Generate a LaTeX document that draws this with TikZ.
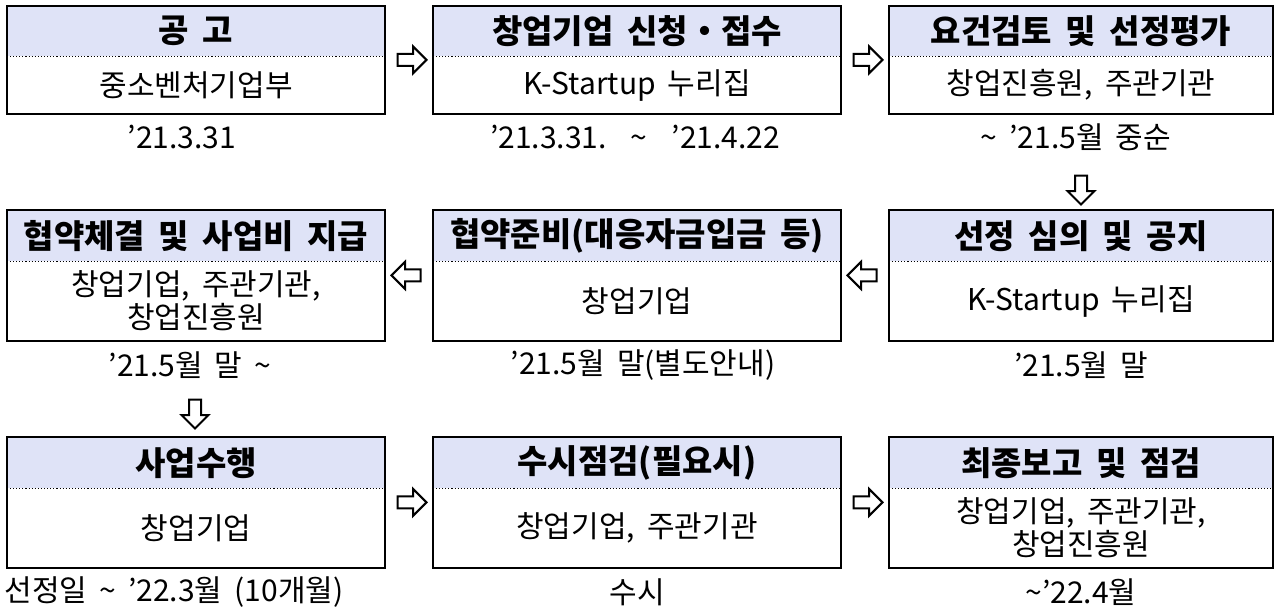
\documentclass[tikz,border=0pt]{standalone}
\usepackage{fontspec}
\setmainfont[WordSpace=1.8]{Noto Sans CJK KR}
\usepackage{xcolor}
\usetikzlibrary{shapes.arrows,calc}
\definecolor{headfill}{RGB}{223,227,247}
\newcommand{\tld}{\textasciitilde}

\begin{document}
\begin{tikzpicture}[x=1pt,y=-1pt]
\tikzstyle{every node}+=[inner sep=0pt]
\tikzstyle{head}=[fill=headfill, anchor=north, minimum height=51, font=\fontsize{33}{36}\selectfont\bfseries]
\tikzstyle{body}=[anchor=north, align=center, font=\fontsize{30}{33}\selectfont]
\tikzstyle{date}=[font=\fontsize{30}{33}\selectfont]
\tikzstyle{frame}=[line width=1.8pt]
\tikzstyle{sep}=[dotted, line width=1.1pt]
\tikzstyle{blockarrow}=[single arrow, draw, fill=white, line width=2pt, inner sep=5pt, minimum height=29, single arrow head extend=7.5, single arrow head indent=0pt]
\useasboundingbox (0,0) rectangle (1275,610);
\node [head, minimum width=378, minimum height=50] (h1) at (196,6) {공 고};
\node [body, minimum width=378, minimum height=57] (b1) at (h1.south) {중소벤처기업부};
\draw [frame] (h1.north west) rectangle (b1.south east);
\draw [sep] (h1.south west) -- (h1.south east);
\node [date] (d1) at (182,137) {'21.3.31};
\node [head, minimum width=408, minimum height=50] (h2) at (637,6) {창업기업 신청・접수};
\node [body, minimum width=408, minimum height=57] (b2) at (h2.south) {K-Startup 누리집};
\draw [frame] (h2.north west) rectangle (b2.south east);
\draw [sep] (h2.south west) -- (h2.south east);
\node [date] (d2) at (635,137) {'21.3.31.\ \ \tld\ \ '21.4.22};
\node [head, minimum width=384, minimum height=50] (h3) at (1081,6) {요건검토 및 선정평가};
\node [body, minimum width=384, minimum height=57] (b3) at (h3.south) {창업진흥원, 주관기관};
\draw [frame] (h3.north west) rectangle (b3.south east);
\draw [sep] (h3.south west) -- (h3.south east);
\node [date] (d3) at (1076,137) {\tld\ '21.5월 중순};
\node [head, minimum width=384] (h4) at (1081,210) {선정 심의 및 공지};
\node [body, minimum width=384, minimum height=79] (b4) at (h4.south) {K-Startup 누리집};
\draw [frame] (h4.north west) rectangle (b4.south east);
\draw [sep] (h4.south west) -- (h4.south east);
\node [date] (d4) at (1081,365) {'21.5월 말};
\node [head, minimum width=408] (h5) at (637,210) {협약준비(대응자금입금 등)};
\node [body, minimum width=408, minimum height=79] (b5) at (h5.south) {창업기업};
\draw [frame] (h5.north west) rectangle (b5.south east);
\draw [sep] (h5.south west) -- (h5.south east);
\node [date] (d5) at (643,365) {'21.5월 말(별도안내)};
\node [head, minimum width=378] (h6) at (196,210) {협약체결 및 사업비 지급};
\node [body, minimum width=378, minimum height=79] (b6) at (h6.south) {창업기업, 주관기관,\\창업진흥원};
\draw [frame] (h6.north west) rectangle (b6.south east);
\draw [sep] (h6.south west) -- (h6.south east);
\node [date] (d6) at (190,365) {'21.5월 말 \tld};
\node [head, minimum width=378] (h7) at (196,437) {사업수행};
\node [body, minimum width=378, minimum height=79] (b7) at (h7.south) {창업기업};
\draw [frame] (h7.north west) rectangle (b7.south east);
\draw [sep] (h7.south west) -- (h7.south east);
\node [date] (d7) at (174,592) {선정일 \tld\ '22.3월 (10개월)};
\node [head, minimum width=408] (h8) at (637,437) {수시점검(필요시)};
\node [body, minimum width=408, minimum height=79] (b8) at (h8.south) {창업기업, 주관기관};
\draw [frame] (h8.north west) rectangle (b8.south east);
\draw [sep] (h8.south west) -- (h8.south east);
\node [date] (d8) at (637,592) {수시};
\node [head, minimum width=384] (h9) at (1081,437) {최종보고 및 점검};
\node [body, minimum width=384, minimum height=79] (b9) at (h9.south) {창업기업, 주관기관,\\창업진흥원};
\draw [frame] (h9.north west) rectangle (b9.south east);
\draw [sep] (h9.south west) -- (h9.south east);
\node [date] (d9) at (1081,592) {\tld'22.4월};
\node [blockarrow] (a12) at ($(h1.north east)!0.5!(b2.south west)$) {};
\node [blockarrow] (a23) at ($(h2.north east)!0.5!(b3.south west)$) {};
\node [blockarrow, shape border rotate=270] (a34) at (1081,187) {};
\node [blockarrow, shape border rotate=180] (a45) at ($(h5.north east)!0.5!(b4.south west)$) {};
\node [blockarrow, shape border rotate=180] (a56) at ($(h6.north east)!0.5!(b5.south west)$) {};
\node [blockarrow, shape border rotate=270] (a67) at (195,411) {};
\node [blockarrow] (a78) at ($(h7.north east)!0.5!(b8.south west)$) {};
\node [blockarrow] (a89) at ($(h8.north east)!0.5!(b9.south west)$) {};
\end{tikzpicture}
\end{document}
